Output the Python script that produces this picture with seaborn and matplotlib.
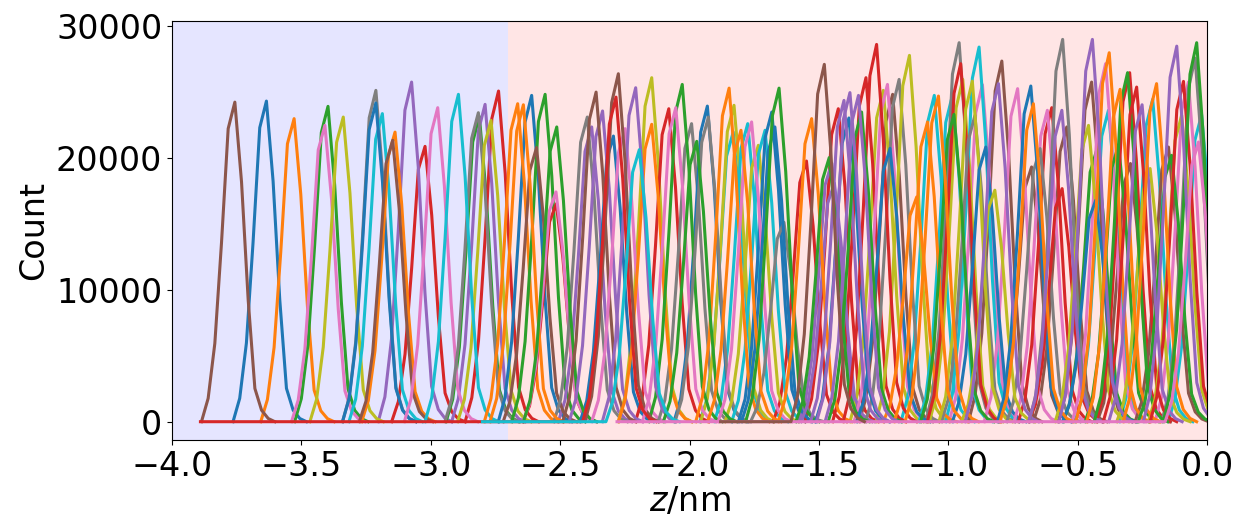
import numpy as np
import pandas as pd
import matplotlib
matplotlib.use("Agg")
import matplotlib.pyplot as plt
import seaborn as sns

# histogram bin width (nm) and the shape of one window histogram, read off the
# leftmost (brown) window; every window below is that shape scaled to its peak
bin_width = 0.0258
profile = [0.0, 0.073, 0.245, 0.56, 0.917, 1.0, 0.75, 0.38, 0.104, 0.036, 0.01, 0.0]
peak_bin = 5

# window peaks: position z (nm) and peak count, grouped by line colour
blue_z = [-3.635, -3.212, -2.610, -2.294, -1.931, -1.682, -1.670, -1.384, -1.225, -0.855, -0.681, -0.430]
blue_n = [24280, 24130, 24710, 21630, 23900, 23450, 22320, 23000, 20700, 20800, 25420, 16770]
orange_z = [-3.528, -3.138, -2.664, -2.642, -2.146, -1.847, -1.801, -1.528, -1.122, -1.080, -1.038, -0.671, -0.378, -0.336, -0.195]
orange_n = [22950, 21930, 24080, 24000, 22520, 25260, 22070, 22950, 17020, 22700, 24660, 24080, 27940, 25170, 25600]
green_z = [-3.397, -2.812, -2.558, -2.513, -2.028, -1.972, -1.654, -1.460, -1.335, -0.978, -0.426, -0.342, -0.307, -0.137, -0.040]
green_n = [23880, 23100, 24790, 22320, 25540, 21230, 25260, 20000, 23450, 23270, 20600, 20980, 26430, 20170, 28700]
red_z = [-3.022, -2.738, -2.515, -2.080, -1.548, -1.425, -1.318, -1.277, -0.952, -0.600, -0.560, -0.299, -0.272, -0.091]
red_n = [20850, 25040, 16500, 23700, 19740, 23700, 26050, 28570, 27110, 23780, 17650, 26430, 25340, 25770]
purple_z = [-3.074, -2.790, -2.378, -2.336, -2.208, -1.450, -1.440, -1.403, -1.380, -1.347, -0.806, -0.561, -0.443, -0.251, -0.117]
purple_n = [25720, 24030, 22320, 23530, 25290, 19570, 18060, 24330, 24920, 24710, 25600, 23580, 28950, 24000, 28440]
brown_z = [-3.757, -3.147, -2.591, -2.361, -2.275, -1.215, -0.793, -0.678, -0.542, -0.446, -0.296, -0.149]
brown_n = [24200, 21310, 20760, 24960, 26350, 24790, 27310, 19290, 22320, 25720, 19550, 20800]
pink_z = [-3.409, -2.973, -2.516, -2.249, -2.053, -1.760, -1.235, -0.868, -0.732, -0.617, -0.392, -0.072]
pink_n = [22440, 23780, 17400, 22190, 23780, 22700, 25540, 25520, 25220, 23580, 27110, 25720]
gray_z = [-3.212, -2.816, -2.395, -1.992, -1.927, -1.635, -1.190, -0.958, -0.897, -0.645, -0.558, -0.046]
gray_n = [25090, 23400, 23070, 22570, 23070, 15100, 25920, 28700, 23200, 20680, 28950, 27530]
olive_z = [-3.338, -2.767, -2.146, -1.828, -1.734, -1.251, -1.150, -0.944, -0.907, -0.820, -0.458, -0.220, -0.098]
olive_n = [23070, 22820, 26050, 23960, 20930, 25090, 27740, 25920, 25790, 17530, 22440, 19170, 23200]
cyan_z = [-3.187, -2.893, -1.831, -1.775, -1.708, -1.054, -0.984, -0.881, -0.381, -0.210, -0.021]
cyan_n = [23330, 24790, 21930, 22570, 22070, 24710, 24710, 28370, 23580, 24410, 23250]

# windows whose histograms start far to the left at zero count
# (they make the flat lines along y = 0); drawn last, in this order
span_group = ["red", "cyan", "pink", "brown"]
span_z = [-2.284, -2.194, -0.033, -1.479]
span_n = [24580, 20600, 21180, 27060]
span_lo = [-3.89, -2.80, -2.28, -1.88]

groups = {
    "blue": (blue_z, blue_n), "orange": (orange_z, orange_n),
    "green": (green_z, green_n), "red": (red_z, red_n),
    "purple": (purple_z, purple_n), "brown": (brown_z, brown_n),
    "pink": (pink_z, pink_n), "gray": (gray_z, gray_n),
    "olive": (olive_z, olive_n), "cyan": (cyan_z, cyan_n),
}
tab = sns.color_palette("tab10")
group_color = dict(zip(["blue", "orange", "green", "red", "purple",
                        "brown", "pink", "gray", "olive", "cyan"], tab))


def window_rows(wid, z0, n0, lo=None):
    offs = (np.arange(len(profile)) - peak_bin) * bin_width
    zs = list(z0 + offs)
    ns = [n0 * p for p in profile]
    if lo is not None and lo < zs[0]:
        zs = [lo] + zs
        ns = [0.0] + ns
    return pd.DataFrame({"z": zs, "count": ns, "window": wid})


frames, palette, order = [], {}, []
# interleave the colour groups so overlaps look mixed like the original
maxlen = max(len(v[0]) for v in groups.values())
for k in range(maxlen):
    for g, (zl, nl) in groups.items():
        if k < len(zl):
            wid = f"{g}{k}"
            frames.append(window_rows(wid, zl[k], nl[k]))
            palette[wid] = group_color[g]
            order.append(wid)
for i, g in enumerate(span_group):
    wid = f"span_{g}{i}"
    frames.append(window_rows(wid, span_z[i], span_n[i], span_lo[i]))
    palette[wid] = group_color[g]
    order.append(wid)
df = pd.concat(frames, ignore_index=True)

fig, ax = plt.subplots(figsize=(12.39, 5.22), dpi=100)
fig.subplots_adjust(left=0.1388, right=0.9742, top=0.9607, bottom=0.1571)

ax.axvspan(-4.0, -2.7, color="blue", alpha=0.1, lw=0, zorder=0)
ax.axvspan(-2.7, 0.0, color="red", alpha=0.1, lw=0, zorder=0)

sns.lineplot(data=df, x="z", y="count", hue="window", hue_order=order,
             palette=palette, estimator=None, sort=False, legend=False,
             linewidth=2.2, ax=ax)

ax.set_xlim(-4.0, 0.0)
ax.set_ylim(-1385, 30380)
ax.set_xticks(np.arange(-4.0, 0.01, 0.5))
ax.set_yticks([0, 10000, 20000, 30000])
ax.tick_params(labelsize=24)
ax.set_xlabel("$z$/nm", fontsize=24, labelpad=2)
ax.set_ylabel("Count", fontsize=24)

fig.savefig("out.png", dpi=100)
